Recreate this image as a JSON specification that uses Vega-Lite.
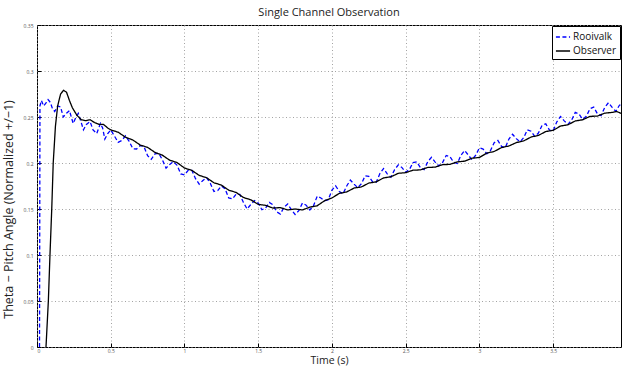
{
  "$schema": "https://vega.github.io/schema/vega-lite/v6.json",
  "width": 584,
  "height": 322,
  "autosize": {"type": "none"},
  "padding": {"left": 37, "top": 25, "right": 1, "bottom": 20},
  "background": "white",
  "title": {"text": "Single Channel Observation", "font": "Open Sans", "fontSize": 11, "fontWeight": "normal", "color": "#222", "offset": 5, "anchor": "middle"},
  "config": {
    "view": {"stroke": "black", "strokeWidth": 1},
    "axis": {
      "domain": false,
      "grid": true,
      "gridColor": "#999",
      "gridDash": [1, 2.5],
      "gridWidth": 0.9,
      "ticks": true,
      "tickColor": "black",
      "tickSize": -4,
      "tickWidth": 1,
      "labelFont": "Open Sans",
      "labelFontSize": 5,
      "labelColor": "#555",
      "titleFont": "Open Sans",
      "titleFontWeight": "normal",
      "titleColor": "#222"
    }
  },
  "data": {"values": [
    {"s":"Rooivalk","t":0.017,"v":0},{"s":"Rooivalk","t":0.02,"v":0.262},{"s":"Rooivalk","t":0.03,"v":0.268},{"s":"Rooivalk","t":0.045,"v":0.262},{"s":"Rooivalk","t":0.06,"v":0.265},{"s":"Rooivalk","t":0.075,"v":0.269},{"s":"Rooivalk","t":0.09,"v":0.266},{"s":"Rooivalk","t":0.105,"v":0.259},{"s":"Rooivalk","t":0.12,"v":0.256},{"s":"Rooivalk","t":0.14,"v":0.262},{"s":"Rooivalk","t":0.16,"v":0.261},{"s":"Rooivalk","t":0.178,"v":0.25},{"s":"Rooivalk","t":0.2,"v":0.254},{"s":"Rooivalk","t":0.22,"v":0.257},{"s":"Rooivalk","t":0.245,"v":0.243},{"s":"Rooivalk","t":0.265,"v":0.25},{"s":"Rooivalk","t":0.28,"v":0.254},{"s":"Rooivalk","t":0.3,"v":0.244},{"s":"Rooivalk","t":0.315,"v":0.236},{"s":"Rooivalk","t":0.335,"v":0.242},{"s":"Rooivalk","t":0.36,"v":0.245},{"s":"Rooivalk","t":0.38,"v":0.236},{"s":"Rooivalk","t":0.405,"v":0.232},{"s":"Rooivalk","t":0.43,"v":0.243},{"s":"Rooivalk","t":0.445,"v":0.238},{"s":"Rooivalk","t":0.46,"v":0.226},{"s":"Rooivalk","t":0.48,"v":0.232},
    {"s":"Rooivalk","t":0.5,"v":0.236},{"s":"Rooivalk","t":0.525,"v":0.2293},{"s":"Rooivalk","t":0.55,"v":0.2225},{"s":"Rooivalk","t":0.575,"v":0.2245},{"s":"Rooivalk","t":0.6,"v":0.2295},{"s":"Rooivalk","t":0.625,"v":0.2235},{"s":"Rooivalk","t":0.65,"v":0.2155},{"s":"Rooivalk","t":0.675,"v":0.2152},{"s":"Rooivalk","t":0.7,"v":0.219},{"s":"Rooivalk","t":0.725,"v":0.218},{"s":"Rooivalk","t":0.75,"v":0.208},{"s":"Rooivalk","t":0.775,"v":0.204},{"s":"Rooivalk","t":0.8,"v":0.21},{"s":"Rooivalk","t":0.825,"v":0.2107},{"s":"Rooivalk","t":0.85,"v":0.2035},{"s":"Rooivalk","t":0.875,"v":0.1945},{"s":"Rooivalk","t":0.9,"v":0.1985},{"s":"Rooivalk","t":0.925,"v":0.2015},{"s":"Rooivalk","t":0.95,"v":0.1975},{"s":"Rooivalk","t":0.975,"v":0.1882},
    {"s":"Rooivalk","t":1.0,"v":0.187},{"s":"Rooivalk","t":1.025,"v":0.192},{"s":"Rooivalk","t":1.05,"v":0.192},{"s":"Rooivalk","t":1.075,"v":0.183},{"s":"Rooivalk","t":1.1,"v":0.177},{"s":"Rooivalk","t":1.125,"v":0.181},{"s":"Rooivalk","t":1.15,"v":0.184},{"s":"Rooivalk","t":1.175,"v":0.178},{"s":"Rooivalk","t":1.2,"v":0.169},{"s":"Rooivalk","t":1.225,"v":0.17},{"s":"Rooivalk","t":1.25,"v":0.175},{"s":"Rooivalk","t":1.275,"v":0.172},{"s":"Rooivalk","t":1.3,"v":0.162},{"s":"Rooivalk","t":1.325,"v":0.161},{"s":"Rooivalk","t":1.35,"v":0.166},{"s":"Rooivalk","t":1.375,"v":0.166},{"s":"Rooivalk","t":1.4,"v":0.157},{"s":"Rooivalk","t":1.425,"v":0.15},{"s":"Rooivalk","t":1.45,"v":0.155},{"s":"Rooivalk","t":1.475,"v":0.1592},
    {"s":"Rooivalk","t":1.5,"v":0.1565},{"s":"Rooivalk","t":1.525,"v":0.1492},{"s":"Rooivalk","t":1.55,"v":0.151},{"s":"Rooivalk","t":1.575,"v":0.1572},{"s":"Rooivalk","t":1.6,"v":0.1545},{"s":"Rooivalk","t":1.625,"v":0.147},{"s":"Rooivalk","t":1.65,"v":0.1445},{"s":"Rooivalk","t":1.675,"v":0.152},{"s":"Rooivalk","t":1.7,"v":0.1555},{"s":"Rooivalk","t":1.725,"v":0.1492},{"s":"Rooivalk","t":1.75,"v":0.144},{"s":"Rooivalk","t":1.775,"v":0.1482},{"s":"Rooivalk","t":1.8,"v":0.1565},{"s":"Rooivalk","t":1.825,"v":0.1542},{"s":"Rooivalk","t":1.85,"v":0.149},{"s":"Rooivalk","t":1.875,"v":0.1535},{"s":"Rooivalk","t":1.9,"v":0.164},{"s":"Rooivalk","t":1.925,"v":0.162},{"s":"Rooivalk","t":1.95,"v":0.159},{"s":"Rooivalk","t":1.975,"v":0.1602},
    {"s":"Rooivalk","t":2.0,"v":0.1705},{"s":"Rooivalk","t":2.025,"v":0.1752},{"s":"Rooivalk","t":2.05,"v":0.169},{"s":"Rooivalk","t":2.075,"v":0.1665},{"s":"Rooivalk","t":2.1,"v":0.175},{"s":"Rooivalk","t":2.125,"v":0.1815},{"s":"Rooivalk","t":2.15,"v":0.177},{"s":"Rooivalk","t":2.175,"v":0.1732},{"s":"Rooivalk","t":2.2,"v":0.1775},{"s":"Rooivalk","t":2.225,"v":0.186},{"s":"Rooivalk","t":2.25,"v":0.1855},{"s":"Rooivalk","t":2.275,"v":0.1798},{"s":"Rooivalk","t":2.3,"v":0.179},{"s":"Rooivalk","t":2.325,"v":0.1885},{"s":"Rooivalk","t":2.35,"v":0.194},{"s":"Rooivalk","t":2.375,"v":0.1882},{"s":"Rooivalk","t":2.4,"v":0.1845},{"s":"Rooivalk","t":2.425,"v":0.1928},{"s":"Rooivalk","t":2.45,"v":0.198},{"s":"Rooivalk","t":2.475,"v":0.195},
    {"s":"Rooivalk","t":2.5,"v":0.19},{"s":"Rooivalk","t":2.525,"v":0.1928},{"s":"Rooivalk","t":2.55,"v":0.2005},{"s":"Rooivalk","t":2.575,"v":0.2012},{"s":"Rooivalk","t":2.6,"v":0.195},{"s":"Rooivalk","t":2.625,"v":0.1928},{"s":"Rooivalk","t":2.65,"v":0.2015},{"s":"Rooivalk","t":2.675,"v":0.2062},{"s":"Rooivalk","t":2.7,"v":0.201},{"s":"Rooivalk","t":2.725,"v":0.1968},{"s":"Rooivalk","t":2.75,"v":0.2005},{"s":"Rooivalk","t":2.775,"v":0.2082},{"s":"Rooivalk","t":2.8,"v":0.207},{"s":"Rooivalk","t":2.825,"v":0.2008},{"s":"Rooivalk","t":2.85,"v":0.1995},{"s":"Rooivalk","t":2.875,"v":0.2085},{"s":"Rooivalk","t":2.9,"v":0.2135},{"s":"Rooivalk","t":2.925,"v":0.2085},{"s":"Rooivalk","t":2.95,"v":0.2035},{"s":"Rooivalk","t":2.975,"v":0.2085},
    {"s":"Rooivalk","t":3.0,"v":0.2165},{"s":"Rooivalk","t":3.025,"v":0.2152},{"s":"Rooivalk","t":3.05,"v":0.21},{"s":"Rooivalk","t":3.075,"v":0.2135},{"s":"Rooivalk","t":3.1,"v":0.222},{"s":"Rooivalk","t":3.125,"v":0.2245},{"s":"Rooivalk","t":3.15,"v":0.218},{"s":"Rooivalk","t":3.175,"v":0.2165},{"s":"Rooivalk","t":3.2,"v":0.226},{"s":"Rooivalk","t":3.225,"v":0.2312},{"s":"Rooivalk","t":3.25,"v":0.2265},{"s":"Rooivalk","t":3.275,"v":0.223},{"s":"Rooivalk","t":3.3,"v":0.2275},{"s":"Rooivalk","t":3.325,"v":0.236},{"s":"Rooivalk","t":3.35,"v":0.2345},{"s":"Rooivalk","t":3.375,"v":0.229},{"s":"Rooivalk","t":3.4,"v":0.2325},{"s":"Rooivalk","t":3.425,"v":0.241},{"s":"Rooivalk","t":3.45,"v":0.2425},{"s":"Rooivalk","t":3.475,"v":0.2358},
    {"s":"Rooivalk","t":3.5,"v":0.235},{"s":"Rooivalk","t":3.525,"v":0.2448},{"s":"Rooivalk","t":3.55,"v":0.2505},{"s":"Rooivalk","t":3.575,"v":0.2458},{"s":"Rooivalk","t":3.6,"v":0.242},{"s":"Rooivalk","t":3.625,"v":0.2465},{"s":"Rooivalk","t":3.65,"v":0.255},{"s":"Rooivalk","t":3.675,"v":0.2532},{"s":"Rooivalk","t":3.7,"v":0.2475},{"s":"Rooivalk","t":3.725,"v":0.2508},{"s":"Rooivalk","t":3.75,"v":0.259},{"s":"Rooivalk","t":3.775,"v":0.2608},{"s":"Rooivalk","t":3.8,"v":0.2535},{"s":"Rooivalk","t":3.825,"v":0.2515},{"s":"Rooivalk","t":3.85,"v":0.2605},{"s":"Rooivalk","t":3.875,"v":0.2655},{"s":"Rooivalk","t":3.9,"v":0.2605},{"s":"Rooivalk","t":3.925,"v":0.2562},{"s":"Rooivalk","t":3.95,"v":0.263},{"s":"Rooivalk","t":3.96,"v":0.263},
    {"s":"Observer","t":0.055,"v":-0.02},{"s":"Observer","t":0.061,"v":0},{"s":"Observer","t":0.077,"v":0.05},{"s":"Observer","t":0.088,"v":0.1},{"s":"Observer","t":0.1,"v":0.15},{"s":"Observer","t":0.11,"v":0.2},{"s":"Observer","t":0.125,"v":0.24},{"s":"Observer","t":0.14,"v":0.262},{"s":"Observer","t":0.16,"v":0.275},{"s":"Observer","t":0.18,"v":0.279},{"s":"Observer","t":0.2,"v":0.277},{"s":"Observer","t":0.22,"v":0.268},{"s":"Observer","t":0.24,"v":0.26},{"s":"Observer","t":0.27,"v":0.252},{"s":"Observer","t":0.3,"v":0.247},{"s":"Observer","t":0.33,"v":0.246},{"s":"Observer","t":0.36,"v":0.247},{"s":"Observer","t":0.39,"v":0.244},{"s":"Observer","t":0.42,"v":0.242},{"s":"Observer","t":0.45,"v":0.242},{"s":"Observer","t":0.48,"v":0.238},
    {"s":"Observer","t":0.5,"v":0.236},{"s":"Observer","t":0.55,"v":0.2335},{"s":"Observer","t":0.6,"v":0.228},{"s":"Observer","t":0.65,"v":0.225},{"s":"Observer","t":0.7,"v":0.2195},{"s":"Observer","t":0.75,"v":0.217},{"s":"Observer","t":0.8,"v":0.2115},{"s":"Observer","t":0.85,"v":0.2085},{"s":"Observer","t":0.9,"v":0.203},{"s":"Observer","t":0.95,"v":0.2005},{"s":"Observer","t":1.0,"v":0.1945},{"s":"Observer","t":1.05,"v":0.192},{"s":"Observer","t":1.1,"v":0.1865},{"s":"Observer","t":1.15,"v":0.184},{"s":"Observer","t":1.2,"v":0.1785},{"s":"Observer","t":1.25,"v":0.176},{"s":"Observer","t":1.3,"v":0.1705},{"s":"Observer","t":1.35,"v":0.168},{"s":"Observer","t":1.4,"v":0.1625},{"s":"Observer","t":1.45,"v":0.16},{"s":"Observer","t":1.5,"v":0.155},{"s":"Observer","t":1.55,"v":0.154},{"s":"Observer","t":1.6,"v":0.151},{"s":"Observer","t":1.65,"v":0.1515},{"s":"Observer","t":1.7,"v":0.149},{"s":"Observer","t":1.75,"v":0.15},{"s":"Observer","t":1.8,"v":0.149},{"s":"Observer","t":1.85,"v":0.152},{"s":"Observer","t":1.9,"v":0.1535},{"s":"Observer","t":1.95,"v":0.159},{"s":"Observer","t":2.0,"v":0.162},{"s":"Observer","t":2.05,"v":0.167},{"s":"Observer","t":2.1,"v":0.1685},{"s":"Observer","t":2.15,"v":0.1728},{"s":"Observer","t":2.2,"v":0.174},{"s":"Observer","t":2.25,"v":0.1782},{"s":"Observer","t":2.3,"v":0.1795},{"s":"Observer","t":2.35,"v":0.1838},{"s":"Observer","t":2.4,"v":0.185},{"s":"Observer","t":2.45,"v":0.1888},{"s":"Observer","t":2.5,"v":0.1895},{"s":"Observer","t":2.55,"v":0.1922},{"s":"Observer","t":2.6,"v":0.1925},{"s":"Observer","t":2.65,"v":0.1952},{"s":"Observer","t":2.7,"v":0.1955},{"s":"Observer","t":2.75,"v":0.1982},{"s":"Observer","t":2.8,"v":0.1985},{"s":"Observer","t":2.85,"v":0.2012},{"s":"Observer","t":2.9,"v":0.202},{"s":"Observer","t":2.95,"v":0.2052},{"s":"Observer","t":3.0,"v":0.206},{"s":"Observer","t":3.05,"v":0.2108},{"s":"Observer","t":3.1,"v":0.2125},{"s":"Observer","t":3.15,"v":0.2168},{"s":"Observer","t":3.2,"v":0.2185},{"s":"Observer","t":3.25,"v":0.2222},{"s":"Observer","t":3.3,"v":0.224},{"s":"Observer","t":3.35,"v":0.2282},{"s":"Observer","t":3.4,"v":0.23},{"s":"Observer","t":3.45,"v":0.2342},{"s":"Observer","t":3.5,"v":0.2355},{"s":"Observer","t":3.55,"v":0.2402},{"s":"Observer","t":3.6,"v":0.2415},{"s":"Observer","t":3.65,"v":0.2457},{"s":"Observer","t":3.7,"v":0.247},{"s":"Observer","t":3.75,"v":0.2507},{"s":"Observer","t":3.8,"v":0.251},{"s":"Observer","t":3.85,"v":0.2542},{"s":"Observer","t":3.9,"v":0.255},{"s":"Observer","t":3.93,"v":0.256},{"s":"Observer","t":3.96,"v":0.254}
  ]},
  "encoding": {
    "x": {"field": "t", "type": "quantitative", "scale": {"domain": [0, 3.96], "nice": false, "zero": false},
      "axis": {"values": [0, 0.5, 1, 1.5, 2, 2.5, 3, 3.5], "format": "~g", "title": "Time (s)", "titleFontSize": 10.5, "titleBaseline": "alphabetic", "titleY": 16, "labelPadding": 5}},
    "y": {"field": "v", "type": "quantitative", "scale": {"domain": [0, 0.35], "nice": false},
      "axis": {"values": [0, 0.05, 0.1, 0.15, 0.2, 0.25, 0.3, 0.35], "format": "~g", "title": "Theta − Pitch Angle (Normalized +/−1)", "titleFontSize": 12.5, "titleX": -22, "titleY": 184, "labelPadding": 8}},
    "color": {"field": "s", "type": "nominal", "scale": {"domain": ["Rooivalk", "Observer"], "range": ["#0000ff", "#000000"]},
      "legend": {"title": null, "orient": "top-right", "offset": 1, "fillColor": "white", "strokeColor": "black", "padding": 3, "symbolType": "stroke", "symbolSize": 200, "symbolStrokeWidth": 1.3, "labelFont": "Open Sans", "labelFontSize": 10, "labelColor": "#111", "rowPadding": 1, "labelOffset": 2}},
    "strokeDash": {"field": "s", "type": "nominal", "scale": {"domain": ["Rooivalk", "Observer"], "range": [[4, 2.5], [1, 0]]}, "legend": null}
  },
  "layer": [
    {"transform": [{"filter": "datum.s === 'Rooivalk'"}], "mark": {"type": "line", "strokeWidth": 1.3, "clip": true}},
    {"transform": [{"filter": "datum.s === 'Observer'"}], "mark": {"type": "line", "strokeWidth": 1.3, "clip": true}}
  ]
}
